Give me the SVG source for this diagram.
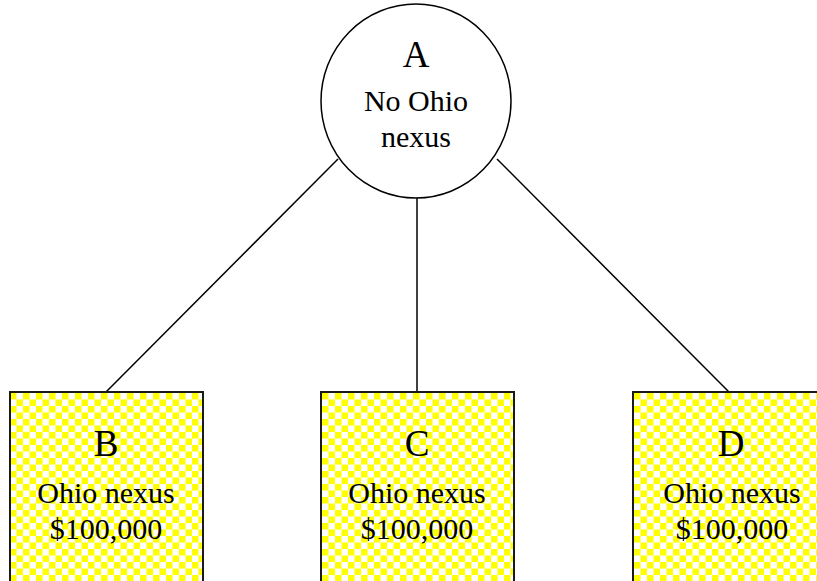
<svg xmlns="http://www.w3.org/2000/svg" width="817" height="581" viewBox="0 0 817 581">
  <defs>
    <!-- small yellow/white checkerboard fill -->
    <pattern id="checker" patternUnits="userSpaceOnUse" x="10" y="393" width="13" height="13">
      <rect width="13" height="13" fill="#ffffff"/>
      <rect x="0" y="0" width="6.5" height="6.5" fill="#ffff00"/>
      <rect x="6.5" y="6.5" width="6.5" height="6.5" fill="#ffff00"/>
    </pattern>
  </defs>
  <style>
    .edge { stroke: #000; stroke-width: 1.5; fill: none; }
    .box { fill: url(#checker); stroke: #1a1a1a; stroke-width: 2; }
    .circ { fill: #fff; stroke: #000; stroke-width: 1.5; }
    text { font-family: "Liberation Serif", "Times New Roman", serif; fill: #000; text-anchor: middle; }
    .big { font-size: 37px; }
    .small { font-size: 30px; }
  </style>
  <rect width="817" height="581" fill="#fff"/>

  <g id="connectors">
    <line class="edge" x1="338" y1="159" x2="106" y2="392"/>
    <line class="edge" x1="417" y1="198" x2="417" y2="392"/>
    <line class="edge" x1="497" y1="159" x2="729" y2="392"/>
  </g>

  <g id="node-A">
    <ellipse class="circ" cx="416" cy="101" rx="95" ry="97"/>
    <text class="big" x="416" y="67">A</text>
    <text class="small" x="416" y="111">No Ohio</text>
    <text class="small" x="416" y="147">nexus</text>
  </g>

  <g id="node-B">
    <rect class="box" x="10" y="392" width="193" height="200"/>
    <text class="big" x="106" y="456">B</text>
    <text class="small" x="106" y="503">Ohio nexus</text>
    <text class="small" x="106" y="539">$100,000</text>
  </g>

  <g id="node-C">
    <rect class="box" x="321" y="392" width="193" height="200"/>
    <text class="big" x="417" y="456">C</text>
    <text class="small" x="417" y="503">Ohio nexus</text>
    <text class="small" x="417" y="539">$100,000</text>
  </g>

  <g id="node-D">
    <rect class="box" x="633" y="392" width="193" height="200"/>
    <text class="big" x="731" y="456">D</text>
    <text class="small" x="732" y="503">Ohio nexus</text>
    <text class="small" x="732" y="539">$100,000</text>
  </g>
</svg>
